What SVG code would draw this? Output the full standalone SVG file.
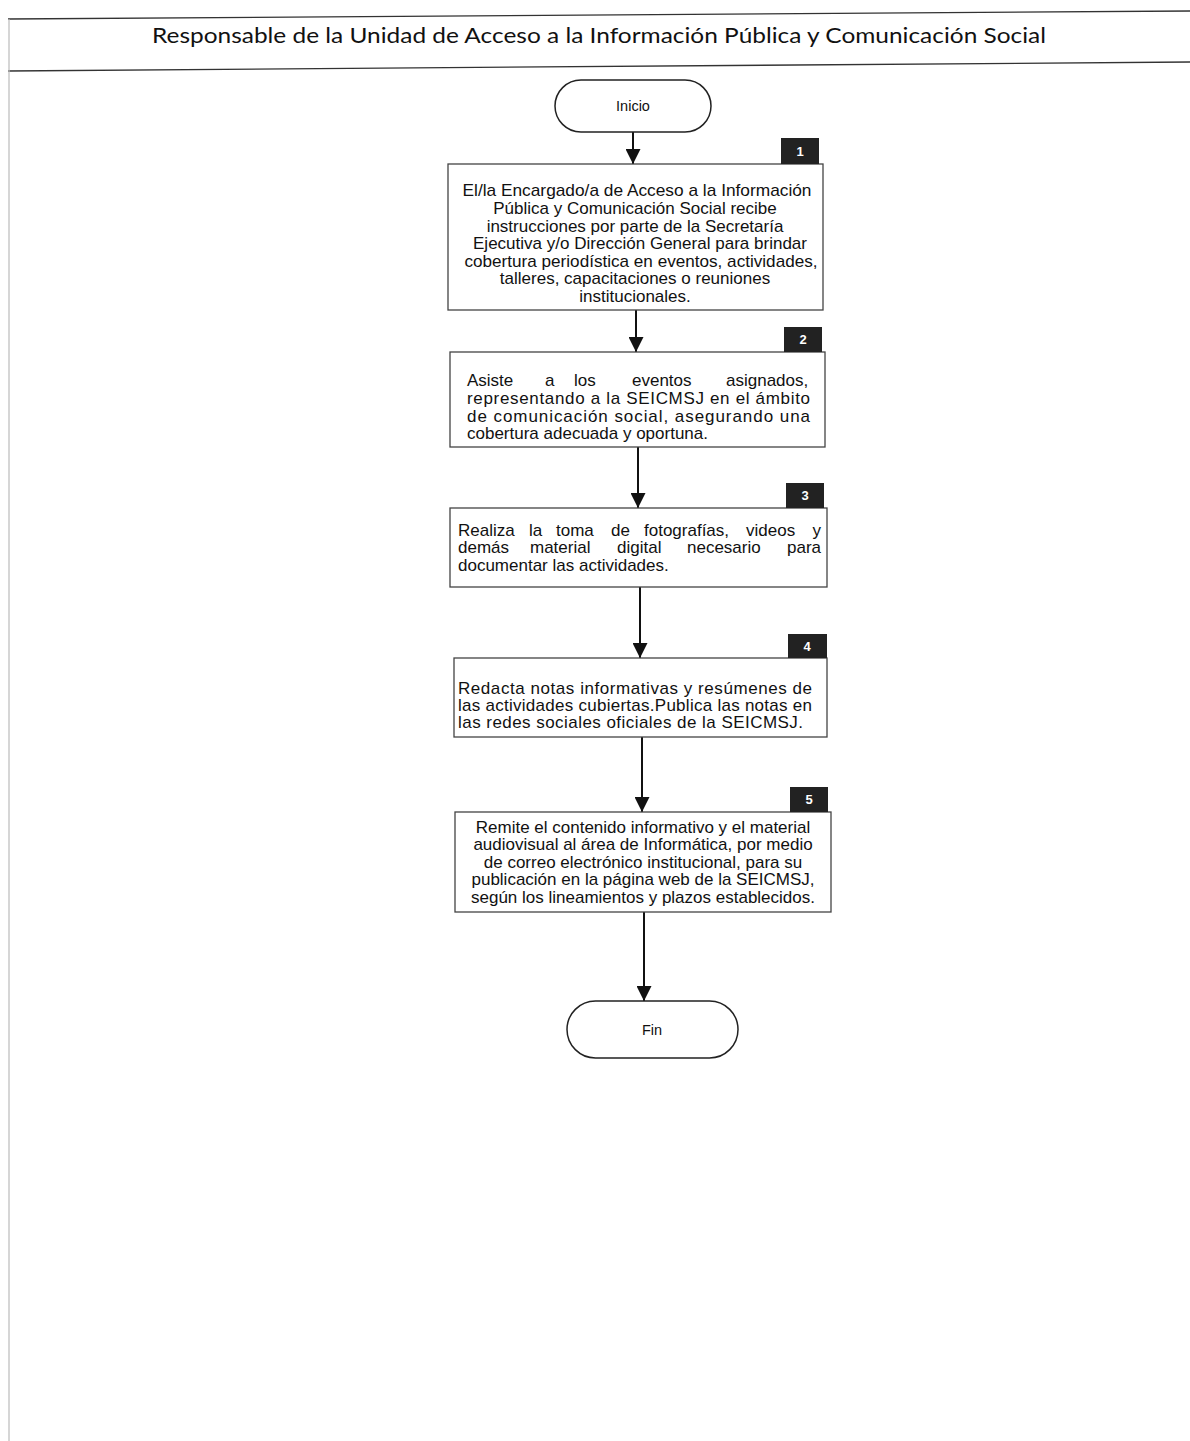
<svg xmlns="http://www.w3.org/2000/svg" width="1190" height="1441" viewBox="0 0 1190 1441">
<style>
.frame{stroke:#333;stroke-width:1.3;fill:none}
.lane{stroke:#bbb;stroke-width:1.2;fill:none}
.box{fill:#fff;stroke:#444;stroke-width:1.3}
.term{fill:#fff;stroke:#222;stroke-width:1.5}
.badge{fill:#222}
.bnum{font-family:"Liberation Sans",Arial,sans-serif;font-size:13px;font-weight:bold;fill:#fff;text-anchor:middle}
.t{font-family:"Liberation Sans",Arial,sans-serif;font-size:17px;fill:#111}
.c{text-anchor:middle}
.e{text-anchor:end}
.tt{font-family:"Liberation Sans",Arial,sans-serif;font-size:14.5px;fill:#111;text-anchor:middle}
.title{font-family:Lato,"Open Sans","Liberation Sans",sans-serif;font-size:21px;fill:#111}
.conn{stroke:#111;stroke-width:2;fill:none}
</style>
<defs>
<marker id="ah" viewBox="0 0 10 10" refX="10" refY="5" markerWidth="7.5" markerHeight="7.5" markerUnits="strokeWidth" orient="auto">
<path d="M0,0 L10,5 L0,10 z" fill="#111"/>
</marker>
</defs>
<rect width="1190" height="1441" fill="#fff"/>
<g id="header">
<line class="frame" x1="8" y1="19" x2="1190" y2="11"/>
<line class="frame" x1="8" y1="71" x2="1190" y2="62"/>
<line class="lane" x1="9" y1="19" x2="9" y2="1441"/>
<text class="title" x="152" y="43" textLength="894" lengthAdjust="spacingAndGlyphs">Responsable de la Unidad de Acceso a la Información Pública y Comunicación Social</text>
</g>
<g id="connectors">
<line class="conn" x1="633" y1="132" x2="633" y2="164" marker-end="url(#ah)"/>
<line class="conn" x1="636" y1="310" x2="636" y2="352" marker-end="url(#ah)"/>
<line class="conn" x1="638" y1="447" x2="638" y2="508" marker-end="url(#ah)"/>
<line class="conn" x1="640" y1="587" x2="640" y2="658" marker-end="url(#ah)"/>
<line class="conn" x1="642" y1="737" x2="642" y2="812" marker-end="url(#ah)"/>
<line class="conn" x1="644" y1="912" x2="644" y2="1001" marker-end="url(#ah)"/>
</g>
<g id="inicio">
<rect class="term" x="555" y="80" width="156" height="52" rx="26"/>
<text class="tt" x="633" y="111">Inicio</text>
</g>
<g id="step1">
<rect class="box" x="448" y="164" width="375" height="146"/>
<rect class="badge" x="781" y="138" width="38" height="26"/>
<text class="bnum" x="800" y="156">1</text>
<text class="t c" x="637" y="196" textLength="349" lengthAdjust="spacingAndGlyphs">El/la Encargado/a de Acceso a la Información</text>
<text class="t c" x="635" y="214">Pública y Comunicación Social recibe</text>
<text class="t c" x="635" y="232">instrucciones por parte de la Secretaría</text>
<text class="t c" x="640" y="249" textLength="334" lengthAdjust="spacingAndGlyphs">Ejecutiva y/o Dirección General para brindar</text>
<text class="t c" x="641" y="267" textLength="353" lengthAdjust="spacingAndGlyphs">cobertura periodística en eventos, actividades,</text>
<text class="t c" x="635" y="284">talleres, capacitaciones o reuniones</text>
<text class="t c" x="635" y="302">institucionales.</text>
</g>
<g id="step2">
<rect class="box" x="450" y="352" width="375" height="95"/>
<rect class="badge" x="784" y="327" width="38" height="25"/>
<text class="bnum" x="803" y="344">2</text>
<text class="t" y="386"><tspan x="467">Asiste</tspan><tspan x="545">a</tspan><tspan x="574">los</tspan><tspan x="632">eventos</tspan><tspan x="726">asignados,</tspan></text>
<text class="t" x="467" y="404" textLength="343" lengthAdjust="spacing">representando a la SEICMSJ en el ámbito</text>
<text class="t" x="467" y="422" textLength="343" lengthAdjust="spacing">de comunicación social, asegurando una</text>
<text class="t" x="467" y="439">cobertura adecuada y oportuna.</text>
</g>
<g id="step3">
<rect class="box" x="450" y="508" width="377" height="79"/>
<rect class="badge" x="786" y="483" width="38" height="25"/>
<text class="bnum" x="805" y="500">3</text>
<text class="t" y="536"><tspan x="458">Realiza</tspan><tspan x="529">la</tspan><tspan x="556">toma</tspan><tspan x="611">de</tspan><tspan x="644">fotografías,</tspan><tspan x="746">videos</tspan></text>
<text class="t e" x="821" y="536">y</text>
<text class="t" y="553"><tspan x="458">demás</tspan><tspan x="530">material</tspan><tspan x="617">digital</tspan><tspan x="687">necesario</tspan></text>
<text class="t e" x="821" y="553">para</text>
<text class="t" x="458" y="571">documentar las actividades.</text>
</g>
<g id="step4">
<rect class="box" x="454" y="658" width="373" height="79"/>
<rect class="badge" x="788" y="634" width="39" height="24"/>
<text class="bnum" x="807" y="651">4</text>
<text class="t" x="458" y="694" textLength="354" lengthAdjust="spacing">Redacta notas informativas y resúmenes de</text>
<text class="t" x="458" y="711" textLength="354" lengthAdjust="spacing">las actividades cubiertas.Publica las notas en</text>
<text class="t" x="458" y="728" textLength="345" lengthAdjust="spacing">las redes sociales oficiales de la SEICMSJ.</text>
</g>
<g id="step5">
<rect class="box" x="455" y="812" width="376" height="100"/>
<rect class="badge" x="790" y="787" width="38" height="25"/>
<text class="bnum" x="809" y="804">5</text>
<text class="t c" x="643" y="833">Remite el contenido informativo y el material</text>
<text class="t c" x="643" y="850">audiovisual al área de Informática, por medio</text>
<text class="t c" x="643" y="868">de correo electrónico institucional, para su</text>
<text class="t c" x="643" y="885">publicación en la página web de la SEICMSJ,</text>
<text class="t c" x="643" y="903">según los lineamientos y plazos establecidos.</text>
</g>
<g id="fin">
<rect class="term" x="567" y="1001" width="171" height="57" rx="28.5"/>
<text class="tt" x="652" y="1035">Fin</text>
</g>
</svg>
